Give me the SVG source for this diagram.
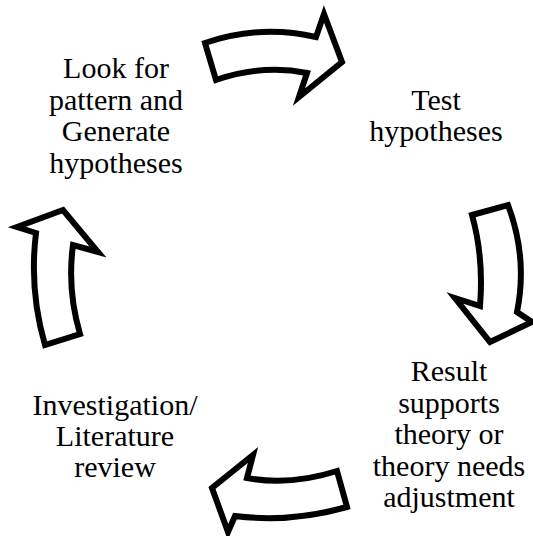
<svg xmlns="http://www.w3.org/2000/svg" width="533" height="536" viewBox="0 0 533 536">
  <style>
    .arrow { fill: #ffffff; stroke: #000000; stroke-width: 6; stroke-linejoin: miter; stroke-miterlimit: 10; }
    .label { font-size: 30px; fill: #000000; text-anchor: middle; }
  </style>
  <rect width="533" height="536" fill="#ffffff"/>

  <g id="connectors">
    <path id="arrow-top" class="arrow" d="M205,43 Q260,24 316,37 L324,14 L342,62 L299,97 L307,73 Q263,64 216,80 Z"/>
    <path id="arrow-right" class="arrow" d="M472,215 L508,205 Q528,258 517,312 L532,322 L490,342 L455,298 L480,306 Q484,258 472,215 Z"/>
    <path id="arrow-bottom" class="arrow" d="M337,471 Q290,486 247,478 L253,455 L212,488 L228,532 L235,516 Q290,523 347,507 Z"/>
    <path id="arrow-left" class="arrow" d="M45,345 Q29,290 36,233 L17,227 L63,210 L98,252 L73,245 Q67,290 80,334 Z"/>
  </g>

  <g font-family="Liberation Serif, DejaVu Serif, Times New Roman, serif">
    <g id="node-generate">
      <text class="label" x="116" y="78">Look for</text>
      <text class="label" x="116" y="110">pattern and</text>
      <text class="label" x="116" y="141">Generate</text>
      <text class="label" x="116" y="173">hypotheses</text>
    </g>

    <g id="node-test">
      <text class="label" x="436" y="110">Test</text>
      <text class="label" x="436" y="141">hypotheses</text>
    </g>

    <g id="node-result">
      <text class="label" x="449" y="381">Result</text>
      <text class="label" x="449" y="413">supports</text>
      <text class="label" x="449" y="444">theory or</text>
      <text class="label" x="449" y="476">theory needs</text>
      <text class="label" x="449" y="507">adjustment</text>
    </g>

    <g id="node-investigation">
      <text class="label" x="115" y="415">Investigation/</text>
      <text class="label" x="115" y="446">Literature</text>
      <text class="label" x="115" y="477">review</text>
    </g>
  </g>
</svg>
